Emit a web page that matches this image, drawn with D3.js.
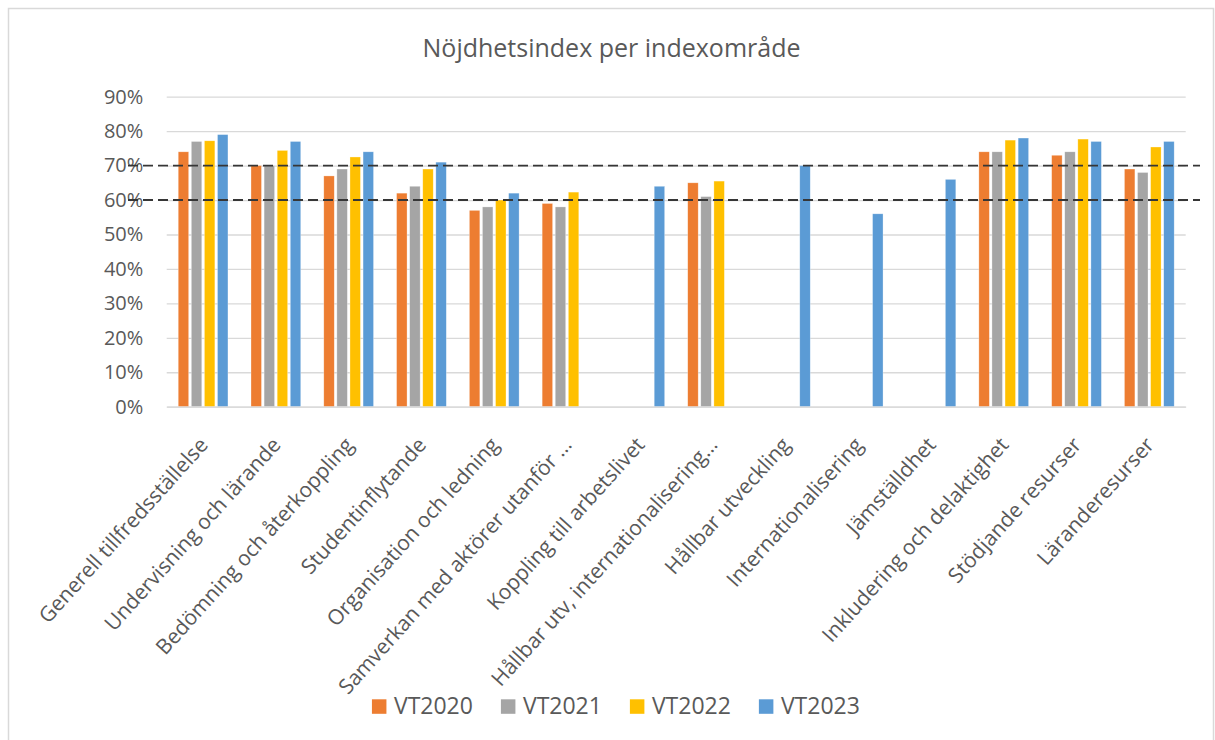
<!DOCTYPE html>
<html>
<head>
<meta charset="utf-8">
<script src="https://cdn.jsdelivr.net/npm/d3@7"></script>
<style>
  body { margin: 0; background: #fff; }
  text { font-family: "Open Sans", sans-serif; fill: #595959; }
</style>
</head>
<body>
<div id="chart"></div>
<script>
// Categories (index areas)
const categories = [
  "Generell tillfredsställelse",
  "Undervisning och lärande",
  "Bedömning och återkoppling",
  "Studentinflytande",
  "Organisation och ledning",
  "Samverkan med aktörer utanför …",
  "Koppling till arbetslivet",
  "Hållbar utv, internationalisering…",
  "Hållbar utveckling",
  "Internationalisering",
  "Jämställdhet",
  "Inkludering och delaktighet",
  "Stödjande resurser",
  "Läranderesurser"
];

// Series names and values (null = no bar)
const seriesNames = ["VT2020", "VT2021", "VT2022", "VT2023"];
const vt2020 = [0.74, 0.70, 0.67, 0.62, 0.57, 0.59, null, 0.65, null, null, null, 0.74, 0.73, 0.69];
const vt2021 = [0.77, 0.70, 0.69, 0.64, 0.58, 0.58, null, 0.61, null, null, null, 0.74, 0.74, 0.68];
const vt2022 = [0.772, 0.744, 0.725, 0.69, 0.60, 0.623, null, 0.655, null, null, null, 0.774, 0.777, 0.754];
const vt2023 = [0.79, 0.77, 0.74, 0.71, 0.62, null, 0.64, null, 0.70, 0.56, 0.66, 0.78, 0.77, 0.77];
const seriesValues = [vt2020, vt2021, vt2022, vt2023];

// Y axis ticks and dashed reference lines
const yTicks = [0, 0.1, 0.2, 0.3, 0.4, 0.5, 0.6, 0.7, 0.8, 0.9];
const refLines = [0.7, 0.6];

const colors = ["#ED7D31", "#A5A5A5", "#FFC000", "#5B9BD5"];

const width = 1215, height = 740;
const plot = { left: 166.7, right: 1185.7, top: 96.7, bottom: 406.7 };

const svg = d3.select("#chart")
    .append("svg")
    .attr("width", width)
    .attr("height", height);

// chart border
svg.append("rect")
    .attr("x", 8.5)
    .attr("y", 8.5)
    .attr("width", 1205)
    .attr("height", 745)
    .attr("fill", "#fff")
    .attr("stroke", "#D9D9D9")
    .attr("stroke-width", 1.5);

// title
svg.append("text")
    .attr("x", 611.5)
    .attr("y", 56.5)
    .attr("text-anchor", "middle")
    .style("font-size", "25px")
    .text("Nöjdhetsindex per indexområde");

// scales
const x0 = d3.scaleBand()
    .domain(categories)
    .range([plot.left, plot.right])
    .padding(0);

const x1 = d3.scaleBand()
    .domain(seriesNames)
    .range([0, x0.bandwidth()])
    .paddingInner(0.2)
    .paddingOuter(0.88);

const y = d3.scaleLinear()
    .domain([0, 0.9])
    .range([plot.bottom, plot.top]);

const color = d3.scaleOrdinal().domain(seriesNames).range(colors);

// gridlines + tick labels
const yAxis = d3.axisLeft(y)
    .tickValues(yTicks)
    .tickFormat(d3.format(".0%"))
    .tickSize(-(plot.right - plot.left))
    .tickPadding(23.4);

svg.append("g")
    .attr("transform", `translate(${plot.left},0)`)
    .call(yAxis)
    .call(g => g.select(".domain").remove())
    .call(g => g.selectAll(".tick line")
        .attr("stroke", "#D9D9D9")
        .attr("stroke-width", 1.3))
    .call(g => g.selectAll(".tick text")
        .attr("fill", "#595959")
        .style("font-family", "Open Sans, sans-serif")
        .style("font-size", "20px"));

// table built from the arrays
const table = categories.map((c, i) => ({
    cat: c,
    values: seriesNames.map((s, j) => ({ key: s, value: seriesValues[j][i] }))
}));

// bars
svg.append("g")
    .selectAll("g")
    .data(table)
    .join("g")
    .attr("transform", d => `translate(${x0(d.cat)},0)`)
    .selectAll("rect")
    .data(d => d.values.filter(v => v.value != null))
    .join("rect")
    .attr("x", d => x1(d.key))
    .attr("width", x1.bandwidth())
    .attr("y", d => y(d.value))
    .attr("height", d => y(0) - y(d.value))
    .attr("fill", d => color(d.key))
    .attr("stroke", "#fff")
    .attr("stroke-opacity", 0.5)
    .attr("stroke-width", 0.6);

// dashed reference lines (reach a bit past the plot area)
svg.append("g")
    .selectAll("line")
    .data(refLines)
    .join("line")
    .attr("x1", plot.left - 38.7)
    .attr("x2", plot.right + 14.3)
    .attr("y1", d => y(d))
    .attr("y2", d => y(d))
    .attr("stroke", "#363636")
    .attr("stroke-width", 1.9)
    .attr("stroke-dasharray", "10,5");

// category axis with rotated labels
const xAxis = d3.axisBottom(x0).tickSize(0);

svg.append("g")
    .attr("transform", `translate(0,${plot.bottom})`)
    .call(xAxis)
    .call(g => g.select(".domain")
        .attr("stroke", "#D9D9D9")
        .attr("stroke-width", 1.3))
    .call(g => g.selectAll(".tick text")
        .attr("x", 0)
        .attr("y", 0)
        .attr("dy", 0)
        .attr("transform", "translate(6,39) rotate(-48)")
        .attr("fill", "#595959")
        .style("text-anchor", "end")
        .style("font-family", "Open Sans, sans-serif")
        .style("font-size", "21px"));

// legend
const legend = svg.append("g");
const legendItems = legend.selectAll("g")
    .data(seriesNames)
    .join("g");

legendItems.append("rect")
    .attr("width", 14.5)
    .attr("height", 14.5)
    .attr("y", -14.7)
    .attr("fill", d => color(d));

legendItems.append("text")
    .attr("x", 22)
    .attr("y", 0)
    .style("font-size", "23px")
    .text(d => d);

// lay legend out using measured text widths
let lx = 0;
legendItems.each(function () {
    const tw = d3.select(this).select("text").node().getComputedTextLength();
    d3.select(this).attr("transform", `translate(${lx},0)`);
    lx += 22 + tw + 28;
});
const legendW = lx - 28;
legend.attr("transform", `translate(${615.9 - legendW / 2},714)`);
</script>
</body>
</html>
